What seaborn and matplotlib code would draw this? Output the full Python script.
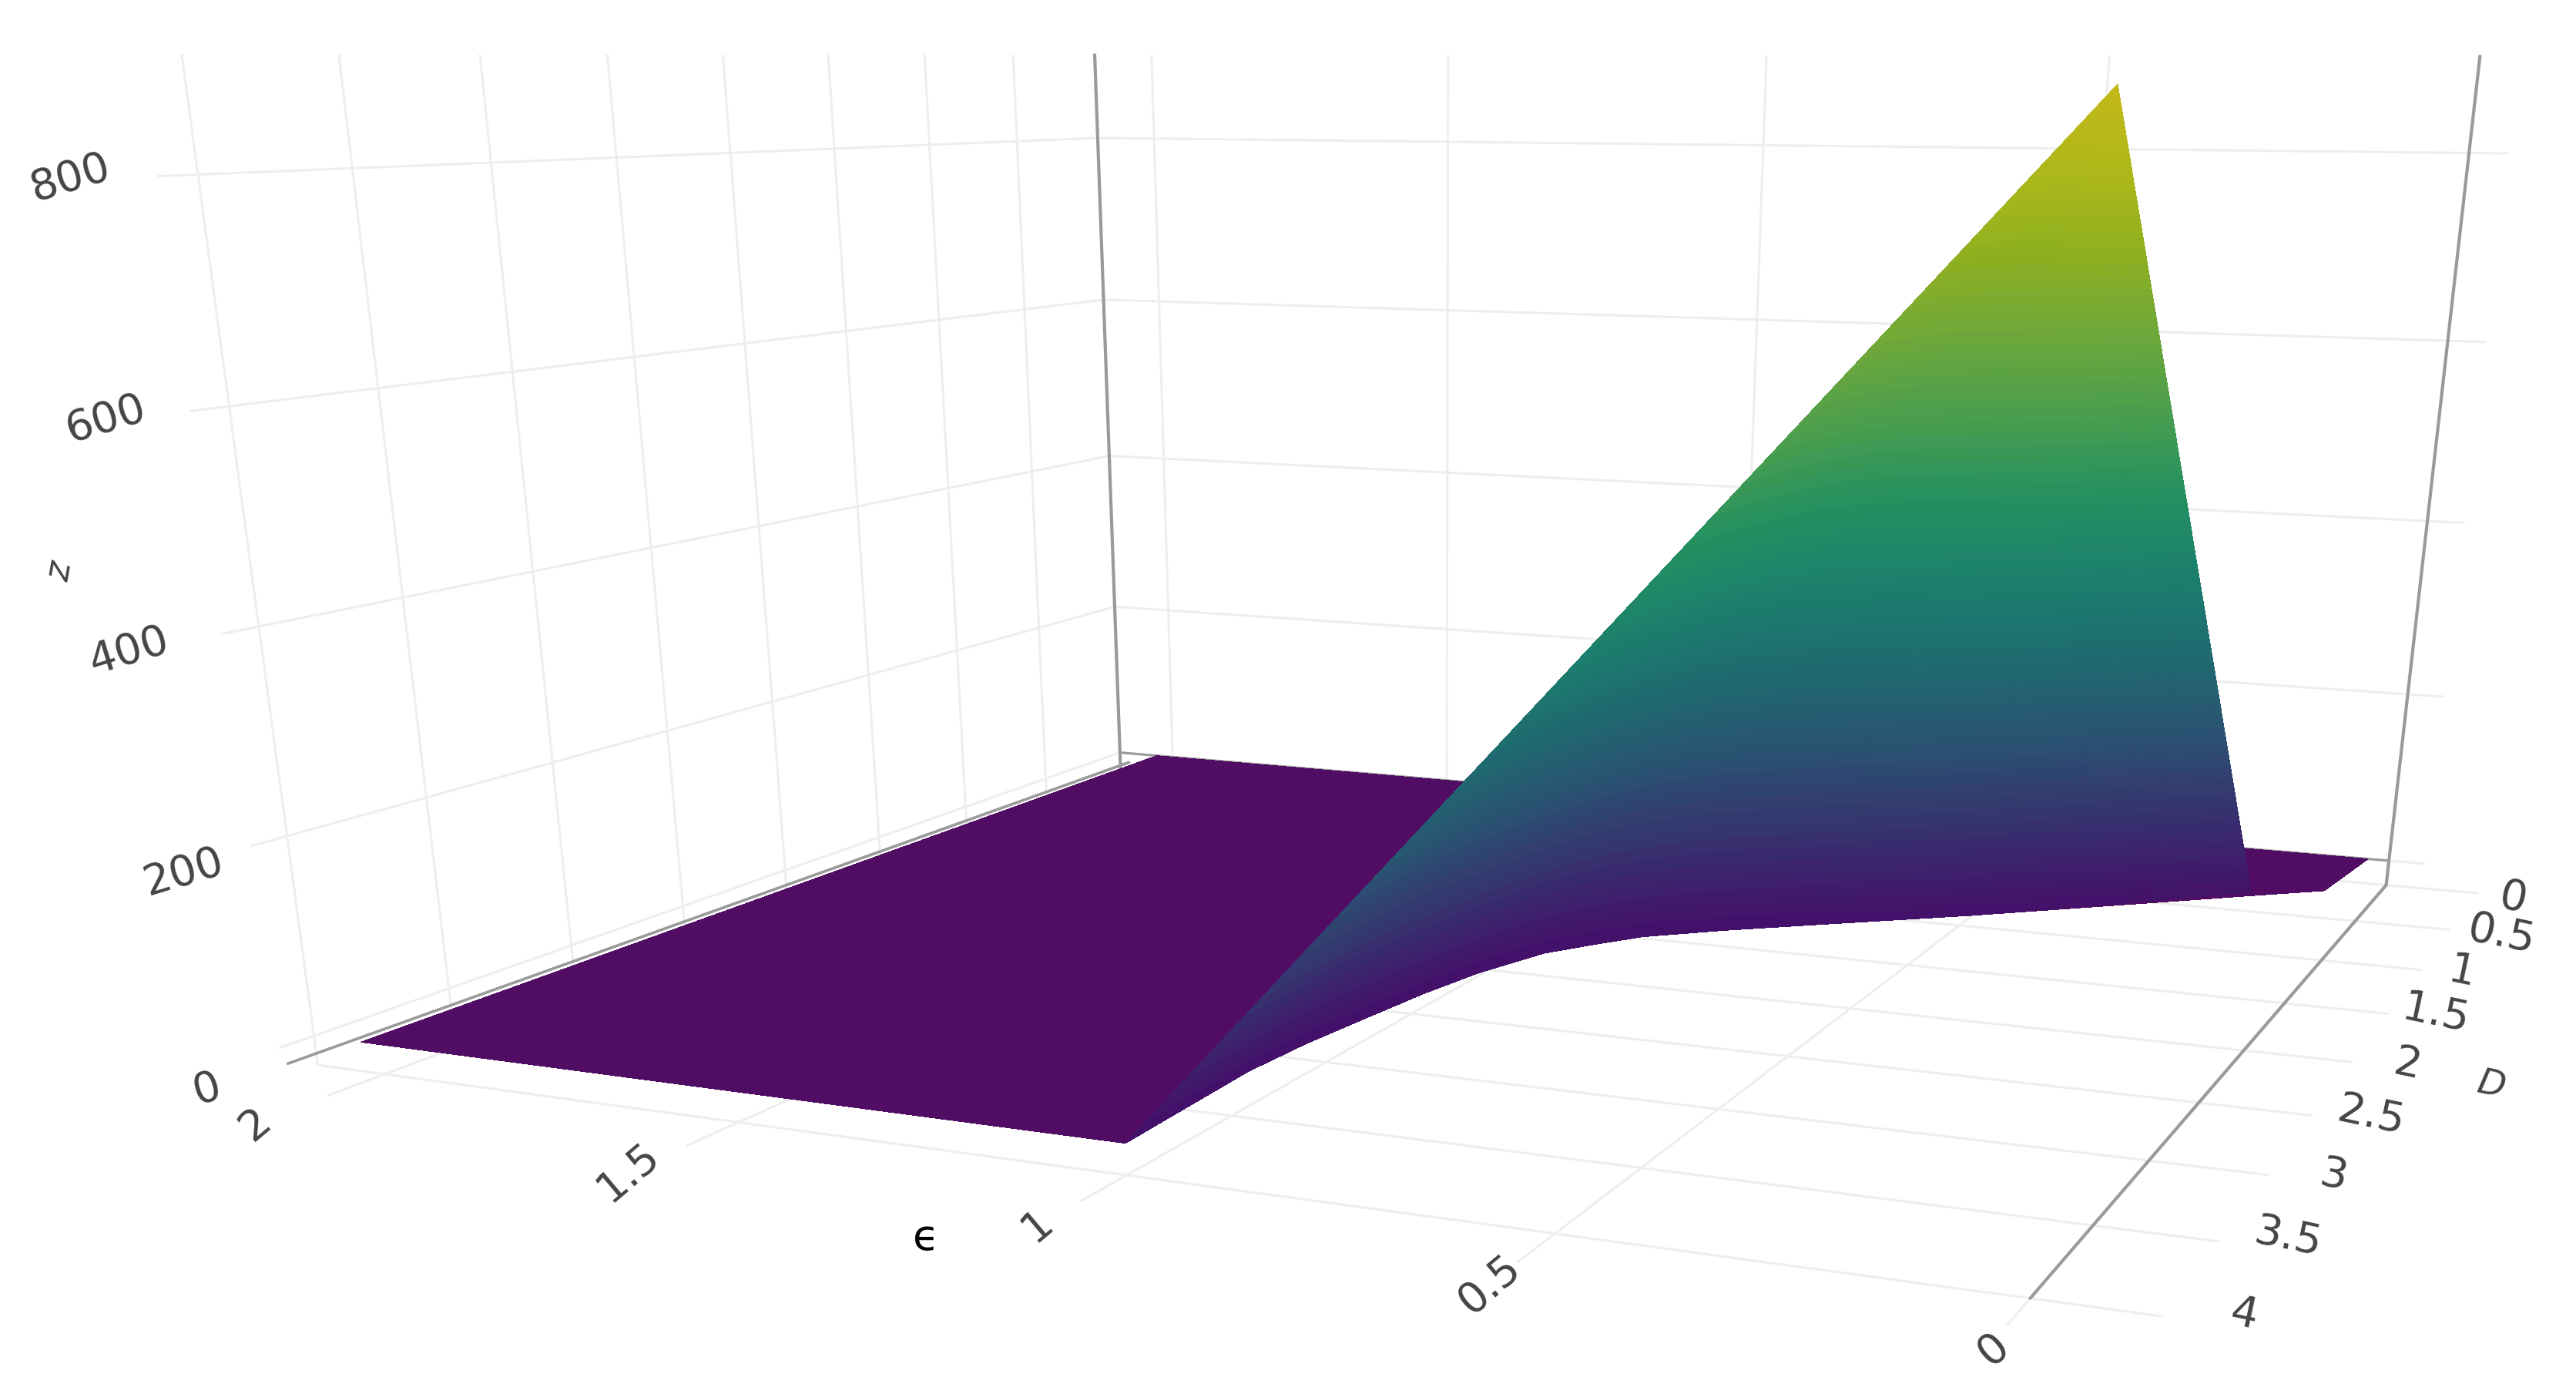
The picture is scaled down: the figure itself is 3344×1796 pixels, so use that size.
import numpy as np
import matplotlib
matplotlib.use('Agg')
import matplotlib.pyplot as plt
import matplotlib.tri as mtri
import seaborn as sns
from mpl_toolkits.mplot3d import proj3d

# axis ticks and ranges
eps_ticks = [0, 0.5, 1, 1.5, 2]
eps_labels = ['0', '0.5', '1', '1.5', '2']
d_ticks = [0, 0.5, 1, 1.5, 2, 2.5, 3, 3.5, 4]
d_labels = ['0', '0.5', '1', '1.5', '2', '2.5', '3', '3.5', '4']
z_ticks = [0, 200, 400, 600, 800]
z_labels = ['0', '200', '400', '600', '800']
eps_range = (0, 2.1)
d_range = (0, 4)
z_range = (-30, 900)

# flat part of the surface, z = 0: outline
flat_eps = [2.03, 2.03, 1.0, 1.004, 1.008, 1.0, 0.986, 0.97, 0.949, 0.912, 0.87, 0.827, 0.74, 0.648, 0.461, 0.272, 0.137, 0.049, 0.03]
flat_d = [0, 4, 4, 3.7, 3.38, 3.1, 2.843, 2.56, 2.307, 2.043, 1.9, 1.767, 1.61, 1.464, 1.172, 0.852, 0.621, 0.475, 0]

# raised part of the surface: peak, then down its right edge, then along the front curve
rise_eps = [0.476, 0.436, 0.398, 0.325, 0.249, 0.137, 0.272, 0.461, 0.648, 0.74, 0.827, 0.87, 0.912, 0.949, 0.97, 0.986, 1.0, 1.008, 1.004, 1.0]
rise_d = [0.08, 0.143, 0.204, 0.32, 0.442, 0.621, 0.852, 1.172, 1.464, 1.61, 1.767, 1.9, 2.043, 2.307, 2.56, 2.843, 3.1, 3.38, 3.7, 4]
rise_z = [870, 628, 465, 236, 136, 4, 2, 0, 0, 0, 0, 0, 0, 0, 0, 0, 0, 0, 0, 0]

surface_colors = ['#45106a', '#37306e', '#2b5172', '#1f6a70', '#1c7f6e', '#259060',
                  '#4a9e4e', '#6fa83a', '#90b01f', '#b0b81a', '#c4b818']
flat_color = '#500d63'
grid_color = '#eeeeee'
axis_color = '#9a9a9a'
text_color = '#444444'

# label nudges in pixels, from the tick they belong to
z_nudge = [(-139, -69), (-134, -47), (-169, -32), (-160, -17), (-166, -5)]
eps_nudge = [(6, -4), (-11, -10), (-26, -14), (-41, -19), (-56, -23)]
d_nudge = [(-28, 0), (-11, 0), (-26, 4), (-21, 8), (-15, 6), (-15, 10), (-11, 10), (-11, 17), (-2, 17)]

sns.set_theme(style='white', rc={'grid.color': grid_color, 'grid.linewidth': 2.2})
plt.rcParams['font.family'] = ['DejaVu Sans']

W, H = 3344, 1796
fig = plt.figure(figsize=(W / 100, H / 100), dpi=100)
ax = fig.add_axes([0, 0, 1, 1], projection='3d')
ax.computed_zorder = False
ax.patch.set_visible(False)

ax.set_xlim3d(*eps_range, view_margin=0)
ax.set_ylim3d(*d_range, view_margin=0)
ax.set_zlim3d(*z_range, view_margin=0)
ax.view_init(13.14, 113.6, -0.09)
ax.set_proj_type('persp', focal_length=0.2465)
ax.set_box_aspect((1.0522, 1, 1.0549))

# the reference is stretched sideways, so the axes box is not kept square
ax.apply_aspect = lambda position=None: None
(x0, y0), (x1, y1) = ax.transData.transform([(0, 0), (1, 1)])
sx = 19289.81 / (x1 - x0)
sy = 10806.82 / (y1 - y0)
ax.set_position([(1889.26 - x0 * sx) / W, (1102.72 - y0 * sy) / H, sx, sy])

ax.set_xticks(eps_ticks)
ax.set_yticks(d_ticks)
ax.set_zticks(z_ticks)
ax.set_xticklabels([])
ax.set_yticklabels([])
ax.set_zticklabels([])
ax.grid(True)
for axis in (ax.xaxis, ax.yaxis, ax.zaxis):
    axis.set_pane_color((1, 1, 1, 0))
    axis.pane.set_edgecolor((1, 1, 1, 0))
    axis.line.set_color((1, 1, 1, 0))
    axis._axinfo['tick']['inward_factor'] = 0
    axis._axinfo['tick']['outward_factor'] = 0

# tick stubs past the box
emin, emax = eps_range
dmin, dmax = d_range
zmin, zmax = z_range
for d in d_ticks:
    ax.plot3D([emin, emin - 0.13], [d, d], [zmin, zmin], color=grid_color, lw=2.2, zorder=1)
for e in eps_ticks:
    ax.plot3D([e, e], [dmax, dmax + 0.2], [zmin, zmin], color=grid_color, lw=2.2, zorder=1)
for z in z_ticks:
    ax.plot3D([emax, emax], [dmax, dmax + 0.12], [z, z], color=grid_color, lw=2.2, zorder=1)
    ax.plot3D([emin, emin - 0.05], [dmin, dmin], [z, z], color=grid_color, lw=2.2, zorder=1)

# darker frame lines
ax.plot3D([emax, emax], [dmin - 0.06, dmax + 0.1], [-18, -18], color=axis_color, lw=2.6, zorder=1)
ax.plot3D([emax, emin], [dmin, dmin], [0, 0], color=axis_color, lw=2.2, zorder=1)
ax.plot3D([emax, emax], [dmin, dmin], [zmin, zmax], color=axis_color, lw=3, zorder=1)
ax.plot3D([emin, emin], [dmin, dmin], [zmin, zmax], color=axis_color, lw=3, zorder=1)
ax.plot3D([emin, emin], [dmin, dmax], [zmin, zmin], color=axis_color, lw=3, zorder=1)


def fan_mesh(xs, ys, zs, subdiv):
    # fan of triangles round the first point, refined so the colours run smoothly.
    # The outline folds over itself in plan, so the refining is done on a plain half disc.
    n = len(xs)
    ang = np.linspace(0, np.pi, n - 1)
    base = mtri.Triangulation(np.r_[0, np.cos(ang)], np.r_[0, np.sin(ang)],
                              [[0, i, i + 1] for i in range(1, n - 1)])
    refiner = mtri.UniformTriRefiner(base)
    out = []
    for v in (xs, ys, zs):
        v = np.asarray(v, float)
        fine, fv = refiner.refine_field(v, mtri.LinearTriInterpolator(base, v), subdiv=subdiv)
        out.append(fv)
    return out[0], out[1], out[2], fine.triangles


fx, fy, fz, ftri = fan_mesh(flat_eps, flat_d, np.zeros(len(flat_eps)), 1)
ax.plot_trisurf(fx, fy, fz, triangles=ftri, color=flat_color, shade=False,
                linewidth=0, antialiased=False, zorder=2)

cmap = sns.blend_palette(surface_colors, n_colors=256, as_cmap=True)
fx, fy, fz, ftri = fan_mesh(rise_eps, rise_d, rise_z, 6)
ax.plot_trisurf(fx, fy, fz, triangles=ftri, cmap=cmap, vmin=0, vmax=870, shade=False,
                linewidth=0, antialiased=False, zorder=3)


def put_label(text, x, y, z, dx, dy, rot, size=40, **kw):
    px, py, _ = proj3d.proj_transform(x, y, z, ax.get_proj())
    kw.setdefault('color', text_color)
    ax.annotate(text, xy=(px, py), xycoords='data', xytext=(dx, dy), textcoords='offset pixels',
                ha='center', va='center', rotation=rot, rotation_mode='anchor', fontsize=size,
                annotation_clip=False, **kw)


for z, lab, (dx, dy) in zip(z_ticks, z_labels, z_nudge):
    put_label(lab, emax, dmax, z, dx, dy, 17)
for e, lab, (dx, dy) in zip(eps_ticks, eps_labels, eps_nudge):
    put_label(lab, e, dmax + 0.3, zmin, dx, dy, 40)
for d, lab, (dx, dy) in zip(d_ticks, d_labels, d_nudge):
    put_label(lab, emin - 0.21, d, zmin, dx, dy, -12)

put_label('z', emax, dmax, 400, -258, 71, 80, size=34, style='italic')
put_label('ϵ', 1.3, dmax + 0.35, zmin, 162, -68, 0, size=40, color='black')
put_label('D', emin - 0.36, 1.7, zmin, -96, -43, -12, size=34, style='italic')

fig.savefig('out.png', dpi=100)
